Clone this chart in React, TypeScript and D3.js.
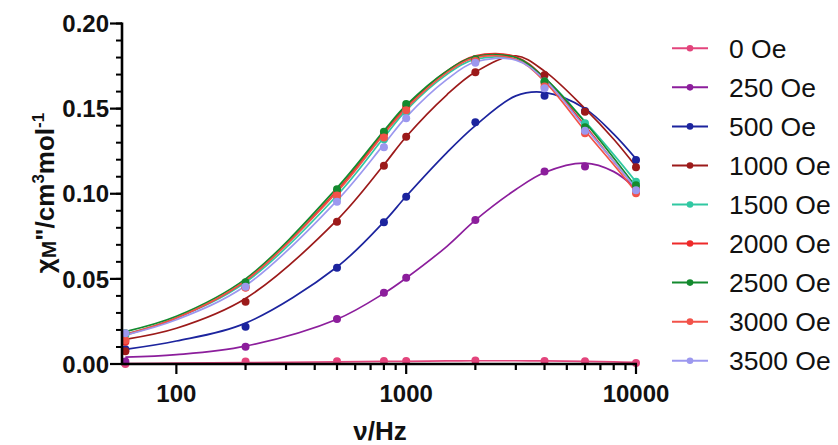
import React from "react";
import * as d3 from "d3";

// Frequencies of the measured points (Hz)
const FREQS = [60, 200, 500, 800, 1000, 2000, 4000, 6000, 10000];
// Frequencies at which the fitted curves were read
const FIT_FREQS = [60, 100, 200, 500, 800, 1000, 1500, 2000, 3000, 4000, 6000, 8000, 10000];

const FIELDS = ["0 Oe", "250 Oe", "500 Oe", "1000 Oe", "1500 Oe", "2000 Oe", "2500 Oe", "3000 Oe", "3500 Oe"];
const COLORS = ["#e3447c", "#8c1e9c", "#1c249e", "#9c1a1a", "#30c8a2", "#ee2a2a", "#138a2e", "#f25249", "#9c98ef"];

// Measured chi'' (cm3 mol-1)
const pts0 = [0.0, 0.0015, 0.0016, 0.0017, 0.0017, 0.002, 0.0018, 0.0016, 0.0006];
const pts250 = [0.0015, 0.0102, 0.0264, 0.0419, 0.0507, 0.0846, 0.113, 0.116, 0.102];
const pts500 = [0.0086, 0.0219, 0.0566, 0.0832, 0.0983, 0.142, 0.1576, 0.1486, 0.1198];
const pts1000 = [0.0075, 0.0366, 0.0836, 0.1165, 0.1335, 0.1713, 0.1697, 0.1482, 0.1155];
const pts1500 = [0.017, 0.046, 0.0975, 0.132, 0.148, 0.178, 0.166, 0.1414, 0.1071];
const pts2000 = [0.013, 0.045, 0.101, 0.135, 0.151, 0.179, 0.165, 0.138, 0.103];
const pts2500 = [0.018, 0.048, 0.1026, 0.1364, 0.1527, 0.179, 0.166, 0.139, 0.105];
const pts3000 = [0.014, 0.045, 0.099, 0.133, 0.149, 0.178, 0.163, 0.1355, 0.1003];
const pts3500 = [0.018, 0.0454, 0.0953, 0.1273, 0.1443, 0.177, 0.162, 0.137, 0.102];

// Fitted curves read at FIT_FREQS
const fit0 = [0.0003, 0.0005, 0.0008, 0.0013, 0.0015, 0.0016, 0.0018, 0.0019, 0.0019, 0.0018, 0.0015, 0.0012, 0.001];
const fit250 = [0.004, 0.0055, 0.0105, 0.0263, 0.0415, 0.0505, 0.069, 0.0845, 0.1025, 0.1125, 0.118, 0.113, 0.103];
const fit500 = [0.0086, 0.0135, 0.024, 0.057, 0.0835, 0.0985, 0.124, 0.14, 0.1575, 0.1595, 0.15, 0.135, 0.1205];
const fit1000 = [0.0145, 0.021, 0.0385, 0.0845, 0.117, 0.1335, 0.158, 0.1715, 0.181, 0.172, 0.15, 0.132, 0.116];
const fit1500 = [0.0175, 0.027, 0.048, 0.099, 0.133, 0.149, 0.17, 0.179, 0.179, 0.168, 0.1425, 0.123, 0.107];
const fit2000 = [0.017, 0.027, 0.049, 0.102, 0.136, 0.151, 0.172, 0.181, 0.1805, 0.168, 0.14, 0.119, 0.103];
const fit2500 = [0.019, 0.028, 0.05, 0.1035, 0.137, 0.152, 0.172, 0.1805, 0.18, 0.168, 0.142, 0.121, 0.104];
const fit3000 = [0.0175, 0.027, 0.049, 0.101, 0.135, 0.15, 0.171, 0.18, 0.179, 0.166, 0.137, 0.117, 0.101];
const fit3500 = [0.017, 0.026, 0.046, 0.096, 0.129, 0.145, 0.167, 0.1775, 0.1785, 0.167, 0.139, 0.119, 0.103];

const POINTS = [pts0, pts250, pts500, pts1000, pts1500, pts2000, pts2500, pts3000, pts3500];
const FITS = [fit0, fit250, fit500, fit1000, fit1500, fit2000, fit2500, fit3000, fit3500];

const X_LABEL_TICKS = [100, 1000, 10000];
const Y_MAJOR = [0, 0.05, 0.1, 0.15, 0.2];

const FONT = "'Liberation Sans', Arial, Helvetica, sans-serif";

export default function App() {
  const W = 838;
  const H = 445;
  const x = d3.scaleLog().domain([58, 10000]).range([122, 636]);
  const y = d3.scaleLinear().domain([0, 0.2]).range([364, 23.5]);

  const xTicks = x.ticks().filter((t) => t >= 100 && t <= 10000);
  const yMinor = d3.range(0, 0.2001, 0.01);

  const line = d3
    .line<[number, number]>()
    .x((d) => x(d[0]))
    .y((d) => y(d[1]))
    .curve(d3.curveCatmullRom.alpha(0.5));

  const legendY0 = 48.3;
  const legendStep = 39.05;

  return (
    <svg
      width={W}
      height={H}
      style={{ position: "absolute", left: 0, top: 0, background: "#fff" }}
      fontFamily={FONT}
    >
      {/* curves */}
      {FITS.map((f, i) => (
        <path
          key={"fit" + i}
          d={line(FIT_FREQS.map((fr, j) => [fr, f[j]] as [number, number])) || ""}
          fill="none"
          stroke={COLORS[i]}
          strokeWidth={1.7}
        />
      ))}
      {/* points */}
      {POINTS.map((p, i) => (
        <g key={"pts" + i} fill={COLORS[i]}>
          {FREQS.map((fr, j) => (
            <circle key={j} cx={x(fr)} cy={y(p[j])} r={4} />
          ))}
        </g>
      ))}

      {/* y axis */}
      <line x1={122} x2={122} y1={y(0) + 1} y2={y(0.2) - 1} stroke="#000" strokeWidth={2.6} />
      {yMinor.map((t, i) => (
        <line key={"ym" + i} x1={116} x2={122} y1={y(t)} y2={y(t)} stroke="#000" strokeWidth={2} />
      ))}
      {Y_MAJOR.map((t, i) => (
        <g key={"yM" + i}>
          <line x1={110} x2={122} y1={y(t)} y2={y(t)} stroke="#000" strokeWidth={2.2} />
          <text
            x={109}
            y={y(t)}
            dy="0.36em"
            textAnchor="end"
            fontSize={24}
            fontWeight="bold"
            fill="#111"
          >
            {t.toFixed(2)}
          </text>
        </g>
      ))}

      {/* x axis */}
      <line x1={121} x2={637} y1={y(0)} y2={y(0)} stroke="#000" strokeWidth={2.6} />
      {xTicks.map((t, i) => {
        const major = X_LABEL_TICKS.includes(t);
        return (
          <line
            key={"xt" + i}
            x1={x(t)}
            x2={x(t)}
            y1={y(0)}
            y2={y(0) + (major ? 10 : 6)}
            stroke="#000"
            strokeWidth={2.2}
          />
        );
      })}
      {X_LABEL_TICKS.map((t, i) => (
        <text
          key={"xl" + i}
          x={x(t)}
          y={402}
          textAnchor="middle"
          fontSize={24}
          fontWeight="bold"
          fill="#111"
        >
          {t}
        </text>
      ))}

      {/* axis titles */}
      <text x={380} y={440} textAnchor="middle" fontSize={26} fontWeight="bold" fill="#111">
        ν/Hz
      </text>
      <text
        transform={`translate(54,${193}) rotate(-90)`}
        textAnchor="middle"
        fontSize={26}
        fontWeight="bold"
        fill="#111"
      >
        χ<tspan fontSize={21} dy={2}>M</tspan>
        <tspan dy={-2}>"/cm</tspan>
        <tspan fontSize={17} dy={-10}>3</tspan>
        <tspan dy={10}>mol</tspan>
        <tspan fontSize={17} dy={-10}>-1</tspan>
      </text>

      {/* legend */}
      {FIELDS.map((name, i) => {
        const cy = legendY0 + i * legendStep;
        return (
          <g key={"lg" + i}>
            <line x1={672} x2={708} y1={cy} y2={cy} stroke={COLORS[i]} strokeWidth={2} />
            <circle cx={690} cy={cy} r={3.3} fill={COLORS[i]} />
            <text x={729} y={cy} dy="0.36em" fontSize={26.5} fill="#111">
              {name}
            </text>
          </g>
        );
      })}
    </svg>
  );
}
